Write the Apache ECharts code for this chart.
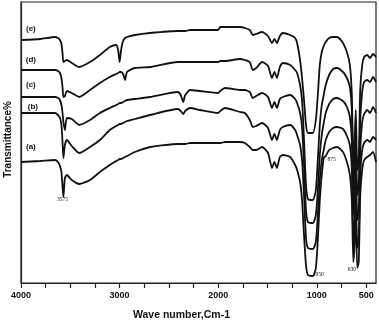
<!DOCTYPE html>
<html>
<head>
<meta charset="utf-8">
<script src="https://cdn.jsdelivr.net/npm/echarts@6/dist/echarts.min.js"></script>
<style>
html,body{margin:0;padding:0;background:#fff;}
#chart{width:379px;height:322px;}
</style>
</head>
<body>
<div id="chart"></div>
<script>
// Wavenumbers (cm-1) shared by all five spectra
const wavenumbers = [4000,3805,3655,3625,3605,3590,3580,3570,3555,3535,3485,3410,3300,3200,3100,3035,3015,3000,2985,2965,2945,2925,2845,2690,2410,2380,2355,2335,2285,2185,2000,1980,1930,1780,1730,1680,1650,1615,1555,1495,1455,1430,1405,1375,1345,1270,1220,1200,1170,1150,1130,1110,1090,1040,1010,990,970,950,930,910,875,835,795,735,695,665,645,630,620,605,590,575,560,540,520,490,460,430,400];

// Transmittance (arbitrary offset units) for each spectrum
const specE = [121.5,122,123,122.5,121.5,119.5,115.5,110.5,111,111.5,110,108,110.5,114,118,119,116.5,110.5,116.5,121,122.5,123,124,125,126,126,126,126,126.5,126.5,126.5,128,128,128,127.5,126.5,124,124.5,125.5,123.5,120,122,120,123.5,125,124,122.5,120,111.5,102.5,91.5,79,75,75,81.5,94,109,115.5,118.5,120.5,122.5,123,123,120,115.5,109,94,59,66.5,86.5,56.5,61.5,96.5,109,113,114,112.5,114.5,113];
const specD = [106.5,106.5,106.5,106,105,102.5,98.5,93,93.5,96,95,93,96.5,100,103,104.5,105,105.5,105.5,104.5,101.5,105.5,107.5,108,110.5,110.5,110.5,110.5,110.5,110.5,110.5,111,111,112,111.5,110.5,106.5,107.5,110.5,108.5,102.5,105.5,102.5,108,110,109,106.5,105,99,91.5,71.5,49,42,41.5,46.5,61.5,79,89,94,99,104,107,107.5,105.5,102.5,98,86.5,46.5,54,74,44,49,81.5,95.5,100.5,101.5,100.5,103,100.5];
const specC = [93,93,93,92.5,91.5,89,85.5,80.5,76.5,82.5,82,79,81.5,85,87.5,89,89.5,90,90,90.5,91,91.5,92,93,95.5,94,90.5,94,96.5,96,95,96,97.5,96.5,96.5,95.5,92.5,93.5,95,93,87.5,90.5,87.5,92,93,94,92,90,85,78,59,36.5,30.5,30,34,46.5,64,74,80,85,89.5,92,92.5,91,88,83,71.5,34,41.5,61.5,31.5,36.5,66.5,80.5,84.5,86.5,85,88,85];
const specB = [85,85,85,84,82.5,79,71.5,62.5,69,71.5,68.5,65,68,71.5,76.5,78.5,79,79.5,79.5,80,80.5,81,82,84,87,86,84.5,86,87.5,86.5,85,86,87.5,85.5,85,81.5,78,78.5,80,77.5,71.5,74.5,71.5,76.5,78,79,76.5,74,69,61.5,44,22.5,17.5,17,20.5,34,51.5,61.5,66.5,71.5,75.5,77.5,78,77,73.5,69,56.5,19,26.5,46.5,17.5,21.5,54,66.5,70,71.5,70.5,73,71.5];
const specA = [60.5,61,61.5,60.5,58.5,55.5,49,43,52.5,54,51.5,49.5,51.5,55.5,59,61,61.5,62,62,62.5,63,63.5,65.5,68,69.5,69.5,69.5,69.5,70,70,70,70,70.5,70.5,70,68,66.5,66.5,68,65,57.5,60.5,57.5,63,64,63,59,56.5,50.5,41.5,24,9,4,3.5,7.5,21.5,41.5,54,62.5,63.5,66.5,67.5,68,65.5,60.5,54,41.5,10.5,16.5,34,7.5,10.5,44,56.5,61.5,63,64,65.5,60.5];

const curveNames = ['(a)','(b)','(c)','(d)','(e)'];
const curveData = [specA, specB, specC, specD, specE];
// curve tag positions [wavenumber, transmittance]
const tagPos = [[3900,68],[3880,88],[3900,99],[3900,111.5],[3900,127]];
// band annotations
const bandText = ['3575','875','1050','630'];
const bandPos = [[3580,41.5],[850,61.5],[985,4],[645,6.5]];

const xTicks = [500,750,1000,1250,1500,1750,2000,2250,2500,2750,3000,3250,3500,3750,4000];
const xLabels = [4000,3000,2000,1000,500];

const chart = echarts.init(document.getElementById('chart'), null, {renderer:'canvas'});

const series = curveData.map((d, i) => ({
  type: 'line',
  name: curveNames[i],
  data: wavenumbers.map((w, k) => [w, d[k]]),
  showSymbol: false,
  smooth: 0.2,
  lineStyle: {color: '#111', width: 1.8},
  animation: false,
  markPoint: {
    symbol: 'circle', symbolSize: 0,
    label: {show: true, color: '#111', fontFamily: 'Liberation Sans, Arial', fontWeight: 'bold', fontSize: 8, formatter: curveNames[i]},
    data: [{coord: tagPos[i], value: curveNames[i]}]
  }
}));

series.push({
  type: 'scatter',
  data: [],
  silent: true,
  markPoint: {
    symbol: 'circle', symbolSize: 0,
    label: {show: true, color: '#111', fontFamily: 'Liberation Serif, Times New Roman', fontSize: 5.5, formatter: p => p.name},
    data: bandText.map((t, i) => ({name: t, coord: bandPos[i]}))
  }
});

chart.setOption({
  backgroundColor: '#fff',
  animation: false,
  grid: {left: 21, right: 3, top: 2, bottom: 39, show: true, borderColor: '#222', borderWidth: 1.2, backgroundColor: 'transparent', containLabel: false, outerBoundsMode: 'none'},
  xAxis: {
    type: 'value', min: 400, max: 4000, inverse: true,
    name: 'Wave number,Cm-1', nameLocation: 'middle', nameGap: 27,
    nameTextStyle: {fontFamily: 'Liberation Sans, Arial', fontWeight: 'bold', fontSize: 10.5, color: '#111', padding: [0, 34, 0, 0]},
    axisLine: {show: true, lineStyle: {color: '#222', width: 1.2}},
    axisTick: {show: true, inside: false, length: 5, lineStyle: {color: '#222', width: 1.2}, customValues: xTicks},
    axisLabel: {show: true, customValues: xLabels, margin: 8, formatter: v => String(v), fontFamily: 'Liberation Sans, Arial', fontWeight: 'bold', fontSize: 9, color: '#111'},
    splitLine: {show: false}
  },
  yAxis: {
    type: 'value', min: 0, max: 140.5,
    name: 'Transmittance%', nameLocation: 'middle', nameGap: 8, nameRotate: 90,
    nameTextStyle: {fontFamily: 'Liberation Sans, Arial', fontWeight: 'bold', fontSize: 10, color: '#111', padding: [0, 0, 0, 6]},
    axisLine: {show: true, lineStyle: {color: '#222', width: 1.2}},
    axisTick: {show: false},
    axisLabel: {show: false},
    splitLine: {show: false}
  },
  series: series
});
</script>
</body>
</html>
